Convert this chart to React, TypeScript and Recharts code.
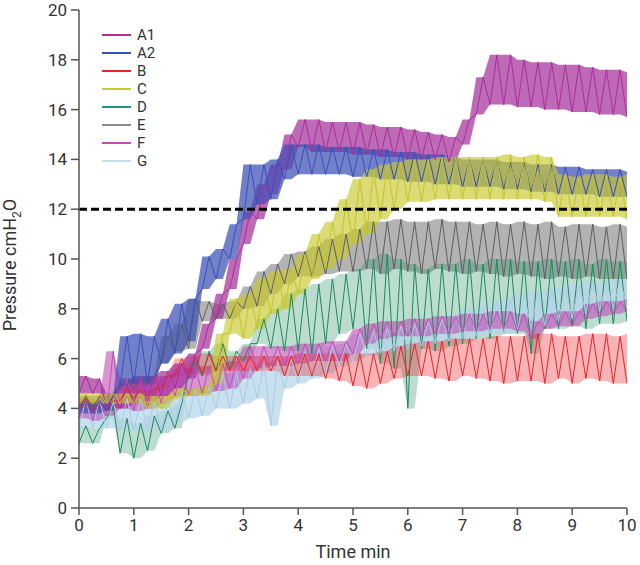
import React from 'react';
import { ComposedChart, Line, Area, XAxis, YAxis, ReferenceLine } from 'recharts';

// time grid, minutes
const times = [
  0, 0.25, 0.5, 0.75, 1, 1.25, 1.5, 1.75, 2, 2.25,
  2.5, 2.75, 3, 3.25, 3.5, 3.75, 4, 4.25, 4.5, 4.75,
  5, 5.25, 5.5, 5.75, 6, 6.25, 6.5, 6.75, 7, 7.25,
  7.5, 7.75, 8, 8.25, 8.5, 8.75, 9, 9.25, 9.5, 9.75,
  10,
];
const xTicks = [0, 1, 2, 3, 4, 5, 6, 7, 8, 9, 10];
const yTicks = [0, 2, 4, 6, 8, 10, 12, 14, 16, 18, 20];
const threshold = 12;

// low / high of each trace's oscillation, read per 0.25 min
const a1Lo = [4.6, 4.6, 4.0, 4.0, 4.2, 4.3, 4.5, 4.8, 5.2, 6.4, 7.6, 8.8, 10.6, 11.6, 12.6, 13.6, 14.5, 14.3, 14.3, 14.3, 14.2, 14.2, 14.1, 14.1, 14.0, 14.0, 14.0, 13.9, 14.6, 15.8, 16.2, 16.2, 16.1, 16.1, 16.0, 16.0, 15.9, 15.9, 15.8, 15.8, 15.7];
const a1Hi = [5.3, 5.2, 4.6, 5.0, 5.3, 5.3, 5.5, 5.8, 6.2, 7.4, 8.6, 10.0, 11.9, 13.0, 13.8, 15.0, 15.6, 15.6, 15.5, 15.5, 15.5, 15.4, 15.3, 15.3, 15.2, 15.1, 15.0, 14.9, 15.6, 17.3, 18.2, 18.2, 18.0, 17.9, 17.9, 17.8, 17.8, 17.7, 17.6, 17.6, 17.5];
const a2Lo = [3.8, 3.8, 3.9, 4.9, 5.0, 5.0, 5.8, 6.2, 6.7, 8.8, 9.2, 10.0, 11.6, 12.2, 12.4, 13.2, 13.4, 13.4, 13.4, 13.4, 13.3, 13.3, 13.2, 13.2, 13.1, 13.1, 13.0, 13.0, 12.9, 12.9, 12.9, 12.8, 12.8, 12.7, 12.7, 12.6, 12.6, 12.6, 12.5, 12.5, 12.5];
const a2Hi = [4.3, 4.3, 4.5, 6.9, 7.0, 6.9, 7.6, 8.2, 8.4, 10.1, 10.4, 11.4, 13.8, 13.8, 14.0, 14.6, 14.6, 14.6, 14.5, 14.5, 14.5, 14.4, 14.4, 14.3, 14.3, 14.2, 14.2, 14.1, 14.0, 14.0, 14.0, 13.9, 13.9, 13.8, 13.8, 13.7, 13.7, 13.6, 13.6, 13.6, 13.5];
const bLo = [4.0, 3.9, 3.9, 4.3, 4.4, 4.5, 4.8, 5.3, 5.4, 5.4, 5.5, 5.5, 5.5, 5.5, 5.5, 5.3, 5.3, 5.3, 5.2, 5.1, 4.9, 4.8, 5.0, 5.2, 5.3, 5.3, 5.2, 5.1, 5.3, 5.2, 5.1, 5.0, 5.1, 5.1, 5.0, 5.2, 5.0, 5.2, 5.1, 5.0, 5.0];
const bHi = [4.4, 4.3, 4.3, 4.8, 4.8, 4.8, 5.3, 6.0, 6.1, 6.2, 6.1, 6.1, 6.1, 6.1, 6.1, 6.1, 6.2, 6.2, 6.2, 6.2, 6.2, 6.2, 6.3, 6.5, 6.6, 6.7, 6.7, 6.8, 6.8, 6.8, 6.9, 6.9, 6.9, 7.0, 7.0, 6.9, 6.9, 7.0, 7.0, 6.9, 7.0];
const cLo = [4.2, 4.2, 4.2, 4.2, 4.2, 4.0, 4.0, 4.4, 4.5, 4.5, 5.0, 7.0, 6.8, 7.2, 7.8, 8.0, 8.6, 9.2, 9.6, 10.0, 10.6, 11.0, 11.6, 12.0, 12.3, 12.3, 12.4, 12.4, 12.4, 12.4, 12.4, 12.4, 12.4, 12.4, 12.3, 11.7, 11.7, 11.7, 11.7, 11.7, 11.6];
const cHi = [4.6, 4.6, 4.6, 4.6, 4.6, 4.5, 4.5, 4.8, 4.8, 4.9, 7.0, 8.4, 8.6, 9.2, 9.5, 9.6, 10.2, 11.0, 11.5, 12.4, 13.2, 13.6, 13.8, 13.9, 14.0, 14.0, 14.1, 14.1, 14.1, 14.1, 14.1, 14.2, 14.1, 14.2, 14.1, 13.4, 13.3, 13.4, 13.4, 13.3, 13.4];
const dLo = [2.6, 2.6, 3.6, 2.2, 2.0, 2.3, 3.0, 3.2, 5.4, 5.3, 5.5, 5.6, 5.9, 6.6, 6.4, 6.3, 6.3, 6.2, 6.6, 7.0, 7.2, 6.4, 5.8, 5.6, 4.0, 6.4, 6.3, 6.5, 6.6, 6.8, 6.8, 7.0, 7.0, 6.2, 7.2, 7.2, 7.3, 7.2, 7.4, 7.4, 7.5];
const dHi = [3.3, 3.2, 4.1, 3.6, 3.4, 3.7, 3.9, 4.2, 5.9, 6.3, 6.6, 6.3, 6.6, 7.6, 8.0, 8.6, 8.8, 9.0, 9.2, 9.4, 9.6, 10.0, 10.2, 10.0, 9.8, 9.6, 9.8, 9.8, 10.0, 9.8, 10.0, 10.0, 9.9, 9.9, 10.0, 9.9, 10.0, 9.8, 10.0, 9.9, 9.9];
const eLo = [4.0, 4.0, 4.2, 4.8, 4.8, 4.9, 5.8, 6.3, 6.4, 7.5, 7.6, 7.6, 8.0, 8.1, 8.6, 9.0, 9.3, 9.3, 9.4, 9.5, 9.5, 9.6, 9.4, 9.6, 9.5, 9.4, 9.6, 9.5, 9.4, 9.5, 9.4, 9.3, 9.4, 9.3, 9.2, 9.3, 9.2, 9.3, 9.2, 9.2, 9.2];
const eHi = [4.5, 4.5, 4.6, 5.2, 5.2, 5.3, 6.9, 7.4, 8.4, 8.3, 8.2, 8.3, 8.9, 9.5, 9.8, 10.2, 10.3, 10.5, 10.8, 11.0, 11.2, 11.5, 11.5, 11.6, 11.5, 11.5, 11.6, 11.5, 11.5, 11.4, 11.5, 11.4, 11.5, 11.4, 11.5, 11.3, 11.4, 11.4, 11.3, 11.4, 11.3];
const fLo = [3.6, 3.5, 3.7, 4.0, 3.9, 4.0, 4.2, 4.5, 4.5, 4.6, 4.7, 4.8, 5.2, 5.6, 5.7, 5.7, 5.8, 5.9, 5.9, 5.9, 6.2, 6.6, 6.8, 6.9, 6.9, 6.9, 7.0, 7.0, 7.1, 7.1, 7.2, 7.2, 7.1, 6.8, 7.2, 7.3, 7.3, 7.6, 7.7, 7.8, 7.9];
const fHi = [4.4, 4.4, 6.3, 5.2, 5.2, 5.3, 5.3, 5.6, 5.6, 5.7, 5.8, 5.9, 6.5, 6.5, 6.5, 6.5, 6.6, 6.6, 6.7, 6.7, 7.2, 7.4, 7.5, 7.5, 7.6, 7.6, 7.7, 7.7, 7.8, 7.8, 7.9, 7.9, 7.8, 7.5, 7.8, 7.9, 7.9, 8.2, 8.3, 8.3, 8.4];
const gLo = [3.2, 3.2, 3.2, 3.1, 3.1, 3.1, 3.1, 3.4, 3.6, 3.7, 4.0, 4.0, 4.2, 4.4, 3.3, 4.8, 5.0, 5.2, 5.4, 5.7, 5.9, 6.1, 6.2, 6.3, 6.4, 6.5, 6.6, 6.7, 6.8, 6.9, 7.0, 7.0, 7.1, 7.2, 7.3, 7.5, 7.6, 7.8, 7.9, 8.0, 8.0];
const gHi = [4.4, 4.4, 4.3, 4.4, 4.4, 4.3, 4.3, 4.7, 4.8, 4.9, 5.4, 5.4, 5.6, 5.8, 5.9, 6.0, 6.3, 6.4, 6.5, 6.6, 7.0, 7.1, 7.2, 7.3, 7.4, 7.5, 7.6, 7.8, 8.0, 8.1, 8.3, 8.4, 8.6, 8.7, 8.8, 8.9, 9.0, 9.1, 9.1, 9.2, 9.2];

// legend order
const legendItems = [
  { name: 'A1', color: '#b2338f' },
  { name: 'A2', color: '#3b4fb5' },
  { name: 'B', color: '#e8242b' },
  { name: 'C', color: '#c9c92c' },
  { name: 'D', color: '#2a8f8a' },
  { name: 'E', color: '#8a8a8a' },
  { name: 'F', color: '#c04fb4' },
  { name: 'G', color: '#c8dcea' },
];

// draw order (bottom to top)
const traces = [
  { key: 'E', lo: eLo, hi: eHi, stroke: '#5f5f5f', fill: '#808080', op: 0.6 },
  { key: 'D', lo: dLo, hi: dHi, stroke: '#1d8a5c', fill: '#1d8a5c', op: 0.3 },
  { key: 'G', lo: gLo, hi: gHi, stroke: '#a9cde6', fill: '#b7d5ea', op: 0.75 },
  { key: 'F', lo: fLo, hi: fHi, stroke: '#c04fb4', fill: '#c04fb4', op: 0.6 },
  { key: 'B', lo: bLo, hi: bHi, stroke: '#e8242b', fill: '#e8242b', op: 0.35 },
  { key: 'A1', lo: a1Lo, hi: a1Hi, stroke: '#a6309a', fill: '#a6309a', op: 0.72 },
  { key: 'A2', lo: a2Lo, hi: a2Hi, stroke: '#3b4fb5', fill: '#3b4fb5', op: 0.72 },
  { key: 'C', lo: cLo, hi: cHi, stroke: '#c4c42a', fill: '#c9c92c', op: 0.65 },
];

const rows: any[] = [];
times.forEach((t, i) => {
  const low: any = { t };
  const high: any = { t: t + 0.125 };
  traces.forEach((s) => {
    low[s.key] = s.lo[i];
    high[s.key] = s.hi[i];
    low[s.key + '_b'] = [s.lo[i], s.hi[i]];
    high[s.key + '_b'] = [s.lo[i], s.hi[i]];
  });
  rows.push(low);
  if (i < times.length - 1) rows.push(high);
});

const font = 'Roboto, "DejaVu Sans", sans-serif';
const textColor = '#333';

function PressureLabel() {
  return (
    <text
      x={16}
      y={265}
      transform='rotate(-90 16 265)'
      textAnchor='middle'
      fill={textColor}
      fontSize={18}
      fontFamily={font}
    >
      Pressure cmH
      <tspan dy={5} fontSize={12}>2</tspan>
      <tspan dy={-5}>O</tspan>
    </text>
  );
}

function LegendBox() {
  return (
    <div
      style={{
        position: 'absolute',
        left: 102,
        top: 26,
        fontFamily: font,
        fontSize: 15,
        color: textColor,
      }}
    >
      {legendItems.map((it) => (
        <div key={it.name} style={{ display: 'flex', alignItems: 'center', height: 18 }}>
          <span style={{ display: 'inline-block', width: 29, height: 1.5, background: it.color, marginRight: 6 }} />
          <span style={{ lineHeight: '16px' }}>{it.name}</span>
        </div>
      ))}
    </div>
  );
}

export default function App() {
  return (
    <div style={{ position: 'absolute', left: 0, top: 0, width: 640, height: 565, background: '#fff' }}>
      <ComposedChart width={640} height={565} data={rows} margin={{ top: 10, right: 13, bottom: 0, left: 0 }}>
        <XAxis
          type='number'
          dataKey='t'
          domain={[0, 10]}
          ticks={xTicks}
          allowDataOverflow
          height={57}
          stroke='#555'
          strokeWidth={1.5}
          tickSize={7}
          tickMargin={4}
          tick={{ fill: textColor, fontSize: 17, fontFamily: font }}
          label={{ value: 'Time min', position: 'insideBottom', offset: 7, fill: textColor, fontSize: 18, fontFamily: font }}
        />
        <YAxis
          type='number'
          domain={[0, 20]}
          ticks={yTicks}
          allowDataOverflow
          width={79}
          stroke='#555'
          strokeWidth={1.5}
          tickSize={8}
          tickMargin={4}
          tick={{ fill: textColor, fontSize: 17, fontFamily: font }}
          label={<PressureLabel />}
        />
        {traces.map((s) => (
          <Area
            key={s.key + '_b'}
            type='linear'
            dataKey={s.key + '_b'}
            stroke='none'
            fill={s.fill}
            fillOpacity={s.op}
            isAnimationActive={false}
          />
        ))}
        {traces.map((s) => (
          <Line
            key={s.key}
            type='linear'
            dataKey={s.key}
            stroke={s.stroke}
            strokeWidth={1}
            dot={false}
            activeDot={false}
            isAnimationActive={false}
          />
        ))}
        <ReferenceLine y={threshold} stroke='#000' strokeWidth={3} strokeDasharray='8 4' />
      </ComposedChart>
      <LegendBox />
    </div>
  );
}
